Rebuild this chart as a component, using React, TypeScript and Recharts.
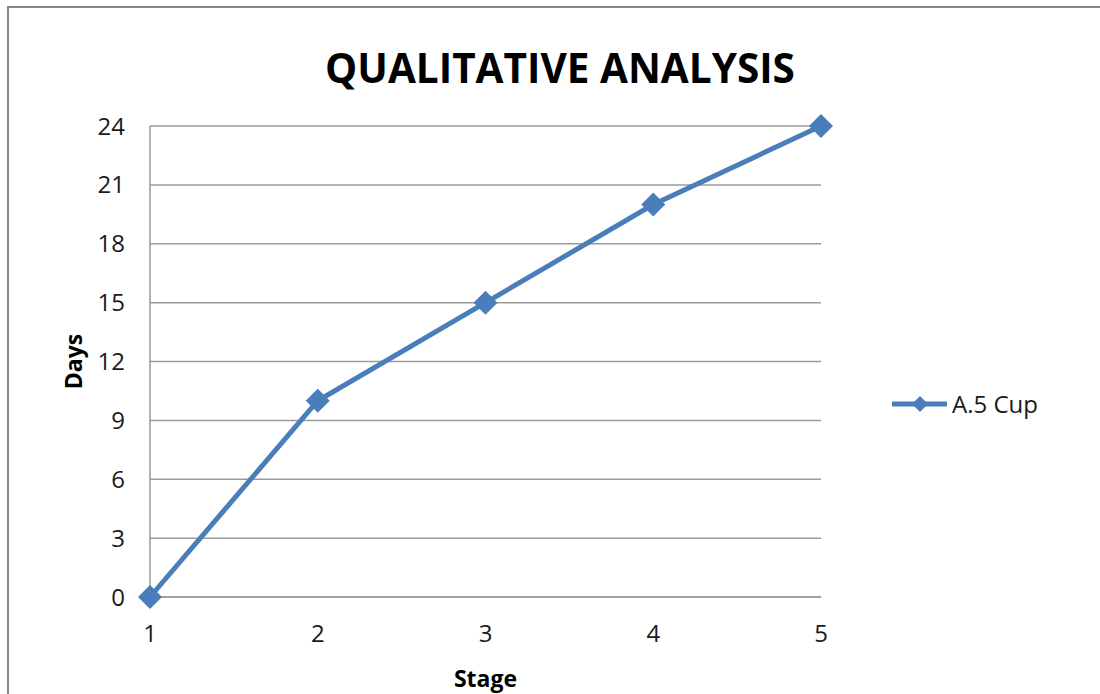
import React from 'react'
import { LineChart, Line, XAxis, YAxis, CartesianGrid, Legend } from 'recharts'

// values
const stages = [1, 2, 3, 4, 5]
const cupDays = [0, 10, 15, 20, 24]
const dayTicks = [0, 3, 6, 9, 12, 15, 18, 21, 24]
const seriesName = 'A.5 Cup'

const BLUE = '#4A7EBB'
const GRID = '#9a9a9a'
const FONT = '"Open Sans", Calibri, sans-serif'

const data = stages.map((s, i) => ({ stage: s, days: cupDays[i] }))

// Excel-style diamond marker
const Diamond = (props: any) => {
  const { cx, cy } = props
  if (cx == null || cy == null) return null
  const r = 12
  return (
    <polygon
      key={`d-${cx}-${cy}`}
      points={`${cx},${cy - r} ${cx + r},${cy} ${cx},${cy + r} ${cx - r},${cy}`}
      fill={BLUE}
    />
  )
}

const LegendBox = (props: any) => {
  const { payload } = props
  return (
    <div>
      {(payload || []).map((entry: any) => (
        <div key={entry.value} style={{ display: 'flex', alignItems: 'center', height: 24 }}>
          <svg width={60} height={24}>
            <line x1={2} y1={12} x2={57} y2={12} stroke={BLUE} strokeWidth={5} />
            <polygon points="30,4 38,12 30,20 22,12" fill={BLUE} />
          </svg>
          <span style={{ fontFamily: FONT, fontSize: 24, color: '#1a1a1a', marginLeft: 2, lineHeight: 1 }}>
            {entry.value}
          </span>
        </div>
      ))}
    </div>
  )
}

export default function App() {
  return (
    <div style={{ position: 'absolute', top: 0, left: 0, width: 1100, height: 694, overflow: 'hidden', background: '#fff' }}>
      <div
        style={{
          position: 'absolute', top: 6, left: 7, width: 1200, height: 800,
          borderTop: '2px solid #878787', borderLeft: '2px solid #878787'
        }}
      />
      <div
        style={{
          position: 'absolute', top: 48, left: 0, width: 1120, textAlign: 'center',
          fontFamily: FONT, fontWeight: 700, fontSize: 40.5, lineHeight: 1, color: '#000'
        }}
      >
        QUALITATIVE ANALYSIS
      </div>
      <div style={{ position: 'absolute', top: 0, left: 0 }}>
        <LineChart width={1100} height={694} data={data} margin={{ top: 126, right: 279, bottom: 0, left: 0 }}>
          <CartesianGrid vertical={false} stroke={GRID} strokeWidth={1.5} />
          <XAxis
            dataKey="stage"
            type="number"
            domain={[1, 5]}
            ticks={stages}
            height={97}
            stroke={GRID}
            strokeWidth={1.5}
            tickLine={false}
            tickSize={0}
            tickMargin={28}
            tick={{ fill: '#1a1a1a', fontSize: 24, fontFamily: FONT }}
            label={{ value: 'Stage', position: 'insideBottom', offset: 7, fill: '#000', fontSize: 23, fontWeight: 700, fontFamily: FONT }}
          />
          <YAxis
            domain={[0, 24]}
            ticks={dayTicks}
            width={150}
            stroke={GRID}
            strokeWidth={1.5}
            tickLine={false}
            tickSize={0}
            tickMargin={25}
            tick={{ fill: '#1a1a1a', fontSize: 24, fontFamily: FONT }}
            label={{ value: 'Days', angle: -90, position: 'insideLeft', offset: 74, style: { textAnchor: 'middle' }, fill: '#000', fontSize: 23, fontWeight: 700, fontFamily: FONT }}
          />
          <Legend
            layout="vertical"
            align="center"
            verticalAlign="middle"
            content={<LegendBox />}
            wrapperStyle={{ left: 890, top: 392, width: 200 }}
          />
          <Line
            name={seriesName}
            dataKey="days"
            stroke={BLUE}
            strokeWidth={5}
            dot={<Diamond />}
            activeDot={false}
            isAnimationActive={false}
          />
        </LineChart>
      </div>
    </div>
  )
}
